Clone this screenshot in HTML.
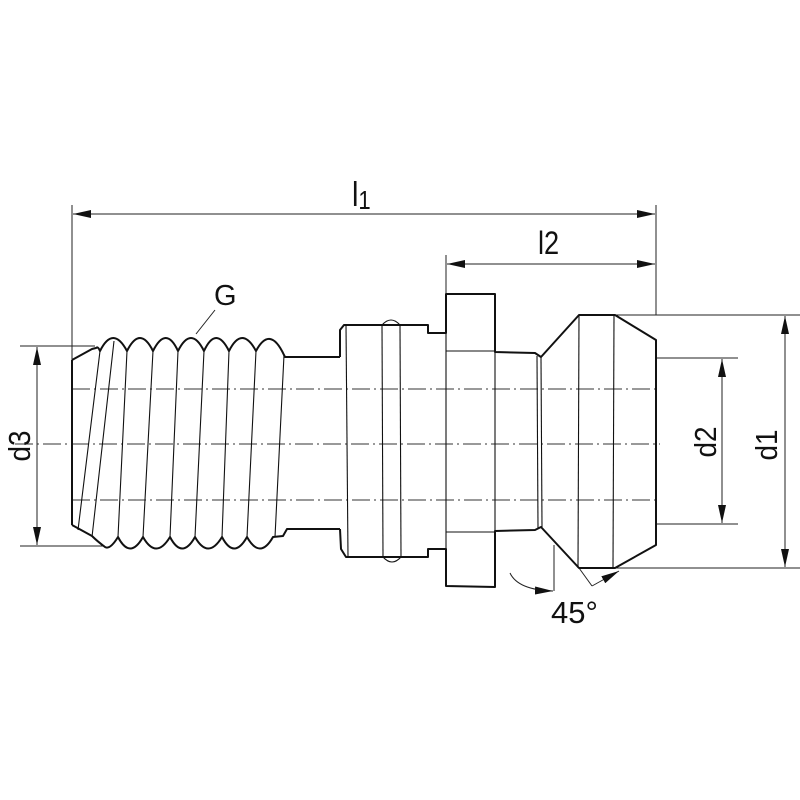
<!DOCTYPE html>
<html><head><style>body{margin:0;background:#fff}svg{display:block}</style></head><body>
<svg width="800" height="800" viewBox="0 0 800 800" xmlns="http://www.w3.org/2000/svg" font-family="Liberation Sans, sans-serif">
<defs>
<marker id="a" markerWidth="18" markerHeight="8" refX="18" refY="4" orient="auto-start-reverse" markerUnits="userSpaceOnUse"><path d="M0,0 L18,4 L0,8 z" fill="#111"/></marker>
</defs>
<rect width="800" height="800" fill="#fff"/>
<g stroke="#333" stroke-width="0.9" stroke-dasharray="18,4,2,4" fill="none">
<line x1="15" y1="444" x2="660" y2="444"/>
<line x1="72" y1="389" x2="656" y2="389"/>
<line x1="72" y1="500" x2="656" y2="500"/>
</g>
<g stroke="#222" stroke-width="1" fill="none">
<line x1="72" y1="205" x2="72" y2="398"/>
<line x1="446" y1="255" x2="446" y2="294"/>
<line x1="656" y1="205" x2="656" y2="315"/>
<line x1="73" y1="214" x2="655" y2="214" marker-start="url(#a)" marker-end="url(#a)"/>
<line x1="447" y1="264" x2="655" y2="264" marker-start="url(#a)" marker-end="url(#a)"/>
<line x1="20" y1="346" x2="95" y2="346"/>
<line x1="20" y1="546" x2="105" y2="546"/>
<line x1="37" y1="347" x2="37" y2="545" marker-start="url(#a)" marker-end="url(#a)"/>
<line x1="656" y1="358" x2="738" y2="358"/>
<line x1="656" y1="524" x2="738" y2="524"/>
<line x1="722" y1="359" x2="722" y2="523" marker-start="url(#a)" marker-end="url(#a)"/>
<line x1="615" y1="315" x2="800" y2="315"/>
<line x1="615" y1="568" x2="800" y2="568"/>
<line x1="785" y1="316" x2="785" y2="567" marker-start="url(#a)" marker-end="url(#a)"/>
<line x1="196" y1="334" x2="215" y2="310"/>
<line x1="554" y1="545" x2="554" y2="591"/>
<path d="M510,573 Q518,590 553,591" marker-end="url(#a)"/>
<line x1="579" y1="568" x2="592" y2="586"/>
<line x1="592" y1="586" x2="619" y2="571" marker-end="url(#a)"/>
</g>
<g stroke="#111" stroke-width="2" fill="none" stroke-linejoin="round">
<path d="M72,360 L92,349 L96,348 Q98,346 100,351 Q113,325 127,351 Q140,325 153,351 Q166,325 178,351 Q191,325 204,351 Q216,325 229,351 Q242,325 256,351 Q270,325 284,355 L285,357 L340,357"/>
<path d="M72,525 L92,536 Q97,541 105,547 Q110,550 118,537 Q130,560 143,537 Q156,560 170,537 Q182,560 195,537 Q208,560 222,537 Q234,560 247,537 Q260,560 273,537 L283,536 L287,529 L340,529"/>
<line x1="72" y1="360" x2="72" y2="525"/>
<path d="M340,357 L340,330 L344,325 L428,325 L428,333 L446,333 L446,294 L495,294 L495,352 L535,353 L541,357 L579,315 L615,315 L656,340 L656,545 L615,568 L579,568 L541,527 L535,530 L495,531 L495,587 L446,586 L446,549 L428,549 L428,557 L346,557 L341,549 L340,529"/>
</g>
<g stroke="#111" stroke-width="1.1" fill="none">
<path d="M100,351 L78,530 M114,341 L92,537 M127,351 L118,537 M153,351 L143,537 M178,351 L170,537 M204,351 L195,537 M229,351 L222,537 M256,351 L247,537 M284,355 L275,537"/>
<line x1="346" y1="325" x2="348" y2="557"/>
<line x1="382" y1="325" x2="383" y2="557"/>
<line x1="400" y1="325" x2="401" y2="557"/>
<path d="M382,325 Q391,315 400,325 M383,557 Q392,567 401,557"/>
<line x1="446" y1="333" x2="446" y2="549"/>
<line x1="446" y1="351" x2="495" y2="351"/>
<line x1="446" y1="532" x2="495" y2="532"/>
<line x1="495" y1="352" x2="495" y2="531"/>
<line x1="537" y1="356" x2="538" y2="528"/>
<line x1="541" y1="357" x2="542" y2="527"/>
<line x1="579" y1="315" x2="578" y2="568"/>
<line x1="614" y1="315" x2="613" y2="568"/>
</g>
<g fill="#111">
<text x="352" y="206" font-size="34" transform="translate(352,0) scale(0.85,1) translate(-352,0)">l<tspan font-size="26" dy="3">1</tspan></text>
<text x="538" y="254" font-size="32" transform="translate(538,0) scale(0.85,1) translate(-538,0)">l2</text>
<text x="214" y="305" font-size="29">G</text>
<text x="551" y="623" font-size="31">45°</text>
<text transform="translate(30,446) rotate(-90) scale(0.9,1)" font-size="31" text-anchor="middle">d3</text>
<text transform="translate(716,442) rotate(-90) scale(0.9,1)" font-size="31" text-anchor="middle">d2</text>
<text transform="translate(777,445) rotate(-90) scale(0.9,1)" font-size="31" text-anchor="middle">d1</text>
</g>
</svg>
</body></html>
